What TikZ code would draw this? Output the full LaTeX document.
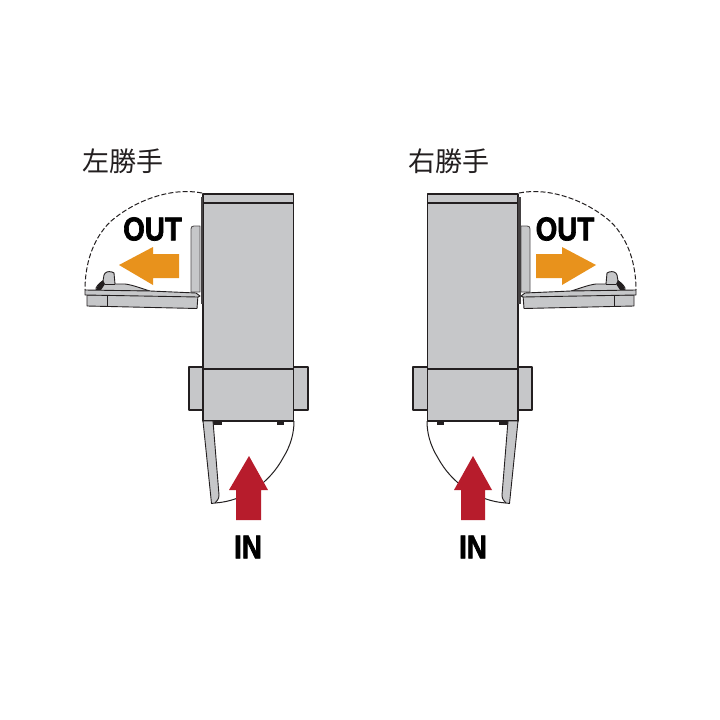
\documentclass[tikz,border=0pt]{standalone}
\usepackage{fontspec}
\setmainfont{Liberation Sans}
\newfontfamily\cjkfont{Noto Sans CJK JP}
\newfontfamily\heavyfont[FakeBold=2.2]{Liberation Sans Bold}
\definecolor{bodygrey}{HTML}{C6C7C9}
\definecolor{inred}{HTML}{B71C2C}
\definecolor{outorange}{HTML}{E8921C}
\definecolor{inkline}{HTML}{231F20}
\tikzset{
  part/.style={draw=inkline,fill=bodygrey,line width=1.1pt,line join=round},
  thin part/.style={draw=inkline,fill=bodygrey,line width=.9pt,line join=round},
  plate part/.style={draw=inkline!80!white,fill=bodygrey,line width=.8pt,line join=round},
  swing/.style={draw=inkline,line width=1pt},
  swing dashed/.style={draw=inkline,line width=1pt,dash pattern=on 5pt off 2.2pt},
  inarrow/.style={fill=inred},
  outarrow/.style={fill=outorange},
  arrowtext/.style={inner sep=0pt,font=\heavyfont\fontsize{33}{33}\selectfont,text=black,xscale=.84},
  title/.style={inner sep=0pt,font=\cjkfont\fontsize{27}{27}\selectfont,text=inkline}
}
\newcommand{\doorunit}{%
  % top swing path (dashed)
  \draw[swing dashed] (202,193) .. controls (172,187) and (135,200) .. (110,222)
     .. controls (92,240) and (85,265) .. (85,290);
  % bottom swing path
  \draw[swing] (215,503) .. controls (245,501) and (270,482) .. (283,458)
     .. controls (291,445) and (294,433) .. (294,421);
  % side flanges
  \draw[part] (189,367) rectangle (308,410);
  % mounting plate
  \draw[plate part] (200,226) -- (194,226) .. controls (192,226) and (191,227) .. (191,229) -- (191,292) -- (200,292) -- cycle;
  % body
  \draw[part] (203,194) rectangle (293.5,421);
  \draw[inkline,line width=1.1pt] (203,203) -- (293.5,203);
  \draw[inkline,line width=1.1pt] (203,369) -- (293.5,369);
  % hinge bar
  \fill[inkline!85!white] (200.5,197) rectangle (203,304);
  % feet
  \fill[inkline] (213,421) rectangle (222,424.5);
  \fill[inkline] (277,421) rectangle (284,424.5);
  % lower door
  \draw[thin part] (203,421) -- (213,421) -- (219,495) .. controls (219,499) and (217,501) .. (215,503)
     -- (211.5,503.5) -- cycle;
  % upper door lower half
  \draw[thin part] (87,295) -- (87,306) -- (197,308.5) -- (198,295) -- cycle;
  \draw[inkline,line width=.9pt] (107,296) -- (107,307);
  % latch
  \draw[thin part] (96,288) .. controls (98,284) and (101,282) .. (103,281) -- (104,275)
     .. controls (105,272) and (108,271) .. (112,272) -- (114,273) -- (115,284) -- (125,284)
     .. controls (133,285) and (140,288) .. (150,291) -- (96,291) -- cycle;
  \fill[inkline] (96,290) -- (98,285) -- (103,280) -- (105,284) -- (101,290) -- cycle;
  \draw[inkline,line width=.9pt] (105,284.5) -- (115,284.5);
  % upper door cover
  \draw[thin part] (85,290) -- (150,291) -- (196,293) -- (200,296) -- (198,297) -- (85,295) -- cycle;
}
\begin{document}
\begin{tikzpicture}[x=1pt,y=-1pt]
\useasboundingbox (0,0) rectangle (720,720);
\fill[white] (0,0) rectangle (720,720);
\begin{scope}
  \doorunit
\end{scope}
\begin{scope}[xshift=721pt,xscale=-1]
  \doorunit
\end{scope}
% titles
\node[title] (titleL) at (122.5,161) {左勝手};
\node[title] (titleR) at (449,161) {右勝手};
% OUT arrows and labels
\fill[outarrow] (119,265) -- (153,247) -- (153,254) -- (179,254) -- (179,278) -- (153,278) -- (153,285) -- cycle;
\fill[outarrow] (596,265) -- (562,247) -- (562,254) -- (536,254) -- (536,278) -- (562,278) -- (562,285) -- cycle;
\node[arrowtext] (outL) at (152.5,229) {OUT};
\node[arrowtext] (outR) at (565,229) {OUT};
% IN arrows and labels
\fill[inarrow] (249,456) -- (268,490) -- (261,490) -- (261,520) -- (236,520) -- (236,490) -- (229,490) -- cycle;
\fill[inarrow] (473,456) -- (492,490) -- (485,490) -- (485,520) -- (461,520) -- (461,490) -- (454,490) -- cycle;
\node[arrowtext] (inL) at (248,547) {IN};
\node[arrowtext] (inR) at (473,547) {IN};
\end{tikzpicture}
\end{document}
